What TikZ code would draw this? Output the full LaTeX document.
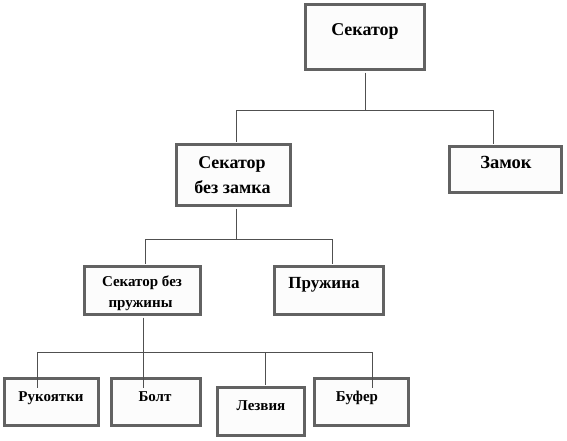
\documentclass[tikz,border=0pt]{standalone}
\usepackage{fontspec}
\setmainfont{Liberation Serif}
\definecolor{boxline}{RGB}{98,98,98}
\definecolor{boxfill}{RGB}{252,252,252}
\definecolor{connline}{RGB}{80,80,80}
\tikzset{
  box/.style={draw=boxline, fill=boxfill, line width=3pt, inner sep=0pt, rectangle},
  conn/.style={draw=connline, line width=0.9pt},
  lbl/.style={inner sep=0pt, anchor=base, font=\bfseries},
}
\begin{document}
\begin{tikzpicture}[x=1pt,y=-1pt]
\useasboundingbox (0,0) rectangle (567,440);
\coordinate (busA) at (365,110.5);
\coordinate (busB) at (236,239.5);
% boxes
\node[box, minimum width=119pt, minimum height=65pt] (A) at (365,37) {};
\node[box, minimum width=114pt, minimum height=61pt] (B) at (233.5,175) {};
\node[box, minimum width=112pt, minimum height=46pt] (C) at (505.5,169.5) {};
\node[box, minimum width=116pt, minimum height=48pt] (D) at (142.5,290.5) {};
\node[box, minimum width=109pt, minimum height=48pt] (E) at (329,290.5) {};
\node[box, minimum width=94pt, minimum height=47pt] (F) at (51.5,402) {};
\node[box, minimum width=89pt, minimum height=47pt] (G) at (156,402) {};
\node[box, minimum width=87pt, minimum height=48pt] (H) at (261,411.5) {};
\node[box, minimum width=94pt, minimum height=47pt] (I) at (361.5,402) {};
% connectors
\draw[conn] ([yshift=-1.5pt]A.south) -- (busA);
\draw[conn] (busA) -| ([xshift=2.5pt,yshift=1.5pt]B.north);
\draw[conn] (busA) -| ([xshift=-12.5pt,yshift=1.5pt]C.north);
\draw[conn] ([xshift=2.5pt,yshift=-1.5pt]B.south) -- (busB);
\draw[conn] (busB) -| ([xshift=2.5pt,yshift=1.5pt]D.north);
\draw[conn] (busB) -| ([xshift=3pt,yshift=1.5pt]E.north);
\coordinate (busD) at (143,352.5);
\draw[conn] ([xshift=0.5pt,yshift=-1.5pt]D.south) -- ([xshift=-13pt,yshift=-11pt]G.north);
\draw[conn] (busD) -| ([xshift=-14.5pt,yshift=-11pt]F.north);
\draw[conn] (busD) -| ([xshift=4pt,yshift=1.5pt]H.north);
\draw[conn] (busD) -| ([xshift=10.5pt,yshift=-11pt]I.north);
% labels
\node[lbl, font=\bfseries\fontsize{18}{18}\selectfont] (tA) at (365,35) {Секатор};
\node[lbl, font=\bfseries\fontsize{18}{18}\selectfont] (tB1) at (232,168) {Секатор};
\node[lbl, font=\bfseries\fontsize{18}{18}\selectfont] (tB2) at (232.5,193) {без замка};
\node[lbl, font=\bfseries\fontsize{18.5}{18.5}\selectfont] (tC) at (506,168) {Замок};
\node[lbl, font=\bfseries\fontsize{15}{15}\selectfont] (tD1) at (142,286) {Секатор без};
\node[lbl, font=\bfseries\fontsize{15}{15}\selectfont] (tD2) at (140.5,307) {пружины};
\node[lbl, font=\bfseries\fontsize{17}{17}\selectfont] (tE) at (324,288) {Пружина};
\node[lbl, font=\bfseries\fontsize{15}{15}\selectfont] (tF) at (51,401) {Рукоятки};
\node[lbl, font=\bfseries\fontsize{15}{15}\selectfont] (tG) at (155,401) {Болт};
\node[lbl, font=\bfseries\fontsize{15}{15}\selectfont] (tH) at (261,410) {Лезвия};
\node[lbl, font=\bfseries\fontsize{15}{15}\selectfont] (tI) at (357,401) {Буфер};
\end{tikzpicture}
\end{document}
